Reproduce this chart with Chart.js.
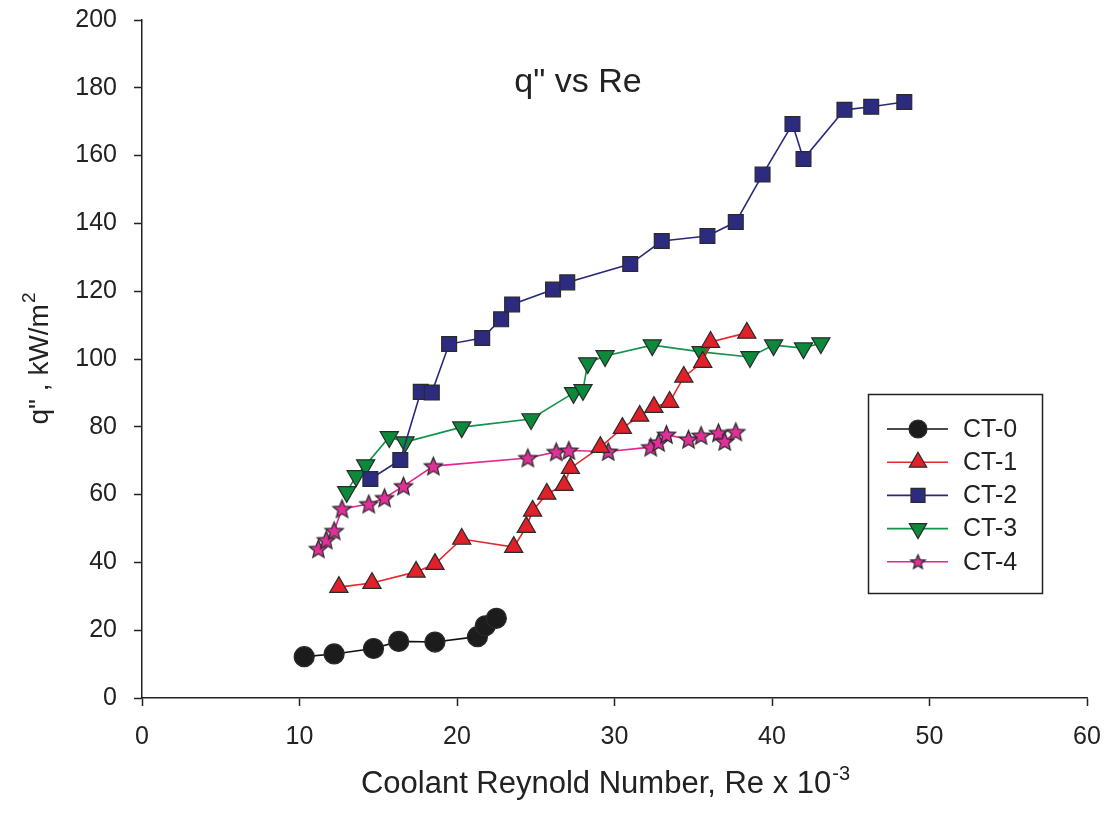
<!DOCTYPE html>
<html lang="en">
<head>
    <meta charset="UTF-8">
    <meta name="viewport" content="width=device-width, initial-scale=1.0">
    <script src="https://cdn.jsdelivr.net/npm/chart.js"></script>
    <style>
        html, body {
            margin: 0;
            padding: 0;
            background: #fff;
        }

        .chart-box {
            width: 1105px;
            height: 818px;
            position: relative;
        }
    </style>
    <title>q" vs Re</title>
</head>
<body>
    <div class="chart-box">
        <canvas id="qChart"></canvas>
    </div>
    <script>
        // Series names and data (Re x 10^-3, q" in kW/m2)
        const seriesNames = ['CT-0', 'CT-1', 'CT-2', 'CT-3', 'CT-4'];

        const ct0Re = [10.3, 12.2, 14.7, 16.3, 18.6, 21.3, 21.8, 22.5];
        const ct0Q = [12.2, 13.0, 14.6, 16.7, 16.5, 18.1, 21.3, 23.5];

        const ct1Re = [12.5, 14.6, 17.4, 18.6, 20.3, 23.6, 24.4, 24.8, 25.7, 26.8, 27.2, 29.1, 30.5, 31.6, 32.5, 33.5, 34.4, 35.6, 36.1, 38.4];
        const ct1Q = [32.7, 33.9, 37.2, 39.5, 46.9, 44.5, 50.4, 55.2, 60.2, 62.8, 67.8, 74.0, 79.6, 83.2, 85.8, 87.3, 94.7, 99.1, 105.0, 107.7];

        const ct2Re = [14.5, 16.4, 17.7, 18.4, 19.5, 21.6, 22.8, 23.5, 26.1, 27.0, 31.0, 33.0, 35.9, 37.7, 39.4, 41.3, 42.0, 44.6, 46.3, 48.4];
        const ct2Q = [64.6, 70.2, 90.3, 90.1, 104.4, 106.2, 111.7, 116.1, 120.5, 122.6, 128.0, 134.8, 136.3, 140.4, 154.4, 169.3, 159.0, 173.5, 174.4, 175.8];

        const ct3Re = [13.0, 13.6, 14.2, 15.7, 16.7, 20.3, 24.7, 27.4, 28.0, 28.3, 29.4, 32.4, 35.5, 38.6, 40.1, 42.0, 43.1];
        const ct3Q = [60.8, 65.5, 68.7, 77.0, 75.5, 79.9, 82.3, 90.0, 90.9, 98.8, 100.9, 104.1, 102.1, 100.6, 104.1, 103.2, 104.7];

        const ct4Re = [11.2, 11.7, 12.2, 12.7, 14.4, 15.4, 16.6, 18.5, 24.5, 26.3, 27.1, 29.6, 32.3, 32.8, 33.3, 34.7, 35.5, 36.6, 37.0, 37.7];
        const ct4Q = [44.0, 46.6, 49.3, 55.8, 57.2, 59.0, 62.5, 68.4, 70.8, 72.6, 73.0, 72.7, 74.0, 75.4, 77.7, 76.3, 77.4, 78.2, 75.7, 78.5];

        const xTicks = [0, 10, 20, 30, 40, 50, 60];
        const yTicks = [0, 20, 40, 60, 80, 100, 120, 140, 160, 180, 200];

        const FONT = '"Liberation Sans", Arial, Helvetica, sans-serif';
        const TEXT = '#222';
        const EDGE = '#2a2a2a';

        // filled five point star as a small canvas (Chart.js 'star' is only an asterisk)
        function makeStar(r, fill) {
            const size = Math.ceil(r * 2 + 4);
            const c = document.createElement('canvas');
            c.width = size;
            c.height = size;
            const g = c.getContext('2d');
            g.translate(size / 2, size / 2 + r * 0.08);
            g.beginPath();
            for (let i = 0; i < 10; i++) {
                const a = -Math.PI / 2 + i * Math.PI / 5;
                const rr = i % 2 ? r * 0.45 : r;
                g.lineTo(Math.cos(a) * rr, Math.sin(a) * rr);
            }
            g.closePath();
            g.fillStyle = fill;
            g.fill();
            g.lineWidth = 1.3;
            g.strokeStyle = EDGE;
            g.stroke();
            return c;
        }

        function pts(xs, ys) {
            return xs.map((x, i) => ({ x: x, y: ys[i] }));
        }

        const styles = [
            { line: '#111111', fill: '#1c1c1c', point: 'circle', radius: 10, rotation: 0 },
            { line: '#e8262b', fill: '#e2202a', point: 'triangle', radius: 10.5, rotation: 0 },
            { line: '#29287a', fill: '#2d2b80', point: 'rect', radius: 10.5, rotation: 0 },
            { line: '#13924a', fill: '#0c8a3c', point: 'triangle', radius: 10.5, rotation: 180 },
            { line: '#e5268f', fill: '#e0309a', point: makeStar(9.5, '#e0309a'), radius: 9, rotation: 0 }
        ];
        const legendStars = makeStar(7.5, '#e0309a');

        const seriesData = [
            pts(ct0Re, ct0Q),
            pts(ct1Re, ct1Q),
            pts(ct2Re, ct2Q),
            pts(ct3Re, ct3Q),
            pts(ct4Re, ct4Q)
        ];

        const datasets = seriesNames.map((name, i) => ({
            label: name,
            data: seriesData[i],
            showLine: true,
            borderColor: styles[i].line,
            borderWidth: 1.6,
            pointStyle: styles[i].point,
            pointRadius: styles[i].radius,
            pointRotation: styles[i].rotation,
            pointBackgroundColor: styles[i].fill,
            pointBorderColor: EDGE,
            pointBorderWidth: 1.2,
            tension: 0
        }));

        function drawMarker(ctx, i, x, y) {
            const s = styles[i];
            ctx.save();
            ctx.fillStyle = s.fill;
            ctx.strokeStyle = EDGE;
            ctx.lineWidth = 1.2;
            ctx.beginPath();
            if (i === 0) {
                ctx.arc(x, y, 9, 0, Math.PI * 2);
            } else if (i === 1 || i === 3) {
                const r = 10;
                const d = i === 3 ? -1 : 1;
                ctx.moveTo(x, y - d * r);
                ctx.lineTo(x + r * 0.866, y + d * r / 2);
                ctx.lineTo(x - r * 0.866, y + d * r / 2);
                ctx.closePath();
            } else if (i === 2) {
                ctx.rect(x - 7, y - 7, 14, 14);
            } else {
                ctx.drawImage(legendStars, x - legendStars.width / 2, y - legendStars.height / 2);
                ctx.restore();
                return;
            }
            ctx.fill();
            ctx.stroke();
            ctx.restore();
        }

        // legend box, axis titles with superscripts and the plot title
        const textPlugin = {
            id: 'textPlugin',
            afterDraw(chart) {
                const ctx = chart.ctx;
                const area = chart.chartArea;
                ctx.save();
                ctx.fillStyle = TEXT;

                // title
                ctx.font = '34px ' + FONT;
                ctx.textAlign = 'center';
                ctx.textBaseline = 'alphabetic';
                ctx.fillText('q" vs Re', 578, 92);

                // x axis title
                ctx.textAlign = 'left';
                const xMain = 'Coolant Reynold Number, Re x 10';
                ctx.font = '31px ' + FONT;
                const wMain = ctx.measureText(xMain).width;
                ctx.font = '20px ' + FONT;
                const wSup = ctx.measureText('-3').width;
                let x0 = 605 - (wMain + wSup) / 2;
                ctx.font = '31px ' + FONT;
                ctx.fillText(xMain, x0, 793);
                ctx.font = '20px ' + FONT;
                ctx.fillText('-3', x0 + wMain + 1, 780);

                // y axis title
                ctx.save();
                const yMain = 'q" , kW/m';
                ctx.font = '28px ' + FONT;
                const wy = ctx.measureText(yMain).width;
                ctx.font = '19px ' + FONT;
                const wy2 = ctx.measureText('2').width;
                const yc = (area.top + area.bottom) / 2;
                ctx.translate(48, yc + (wy + wy2) / 2);
                ctx.rotate(-Math.PI / 2);
                ctx.font = '28px ' + FONT;
                ctx.fillText(yMain, 0, 0);
                ctx.font = '19px ' + FONT;
                ctx.fillText('2', wy + 1, -13);
                ctx.restore();

                // legend
                const bx = 868.5, by = 394.5, bw = 174, bh = 199;
                ctx.strokeStyle = TEXT;
                ctx.lineWidth = 1.5;
                ctx.strokeRect(bx, by, bw, bh);
                ctx.font = '25px ' + FONT;
                ctx.textBaseline = 'middle';
                seriesNames.forEach((name, i) => {
                    const ly = 429 + i * 33.2;
                    ctx.strokeStyle = styles[i].line;
                    ctx.lineWidth = 1.6;
                    ctx.beginPath();
                    ctx.moveTo(887, ly);
                    ctx.lineTo(948, ly);
                    ctx.stroke();
                    drawMarker(ctx, i, 918, ly);
                    ctx.fillStyle = TEXT;
                    ctx.fillText(name, 963, ly + 1);
                });
                ctx.restore();
            }
        };

        const ctx = document.getElementById('qChart').getContext('2d');
        new Chart(ctx, {
            type: 'scatter',
            data: { datasets: datasets },
            options: {
                responsive: true,
                maintainAspectRatio: false,
                animation: false,
                layout: {
                    padding: { left: 0, top: 20, right: 18, bottom: 0 }
                },
                plugins: {
                    legend: { display: false },
                    tooltip: { enabled: false },
                    title: { display: false }
                },
                scales: {
                    x: {
                        type: 'linear',
                        min: xTicks[0],
                        max: xTicks[xTicks.length - 1],
                        afterBuildTicks: (scale) => {
                            scale.ticks = xTicks.map(v => ({ value: v }));
                        },
                        afterFit: (scale) => {
                            scale.height = 120;
                            scale.paddingLeft = 0;
                            scale.paddingRight = 0;
                        },
                        grid: {
                            drawOnChartArea: false,
                            drawTicks: true,
                            tickLength: 8,
                            tickWidth: 1.5,
                            tickColor: TEXT
                        },
                        border: { color: TEXT, width: 1.5 },
                        ticks: {
                            color: TEXT,
                            padding: 16,
                            maxRotation: 0,
                            font: { family: FONT, size: 25 }
                        }
                    },
                    y: {
                        type: 'linear',
                        min: yTicks[0],
                        max: yTicks[yTicks.length - 1],
                        afterBuildTicks: (scale) => {
                            scale.ticks = yTicks.map(v => ({ value: v }));
                        },
                        afterFit: (scale) => {
                            scale.width = 142;
                            scale.paddingTop = 0;
                            scale.paddingBottom = 0;
                        },
                        grid: {
                            drawOnChartArea: false,
                            drawTicks: true,
                            tickLength: 8,
                            tickWidth: 1.5,
                            tickColor: TEXT
                        },
                        border: { color: TEXT, width: 1.5 },
                        ticks: {
                            color: TEXT,
                            padding: 17,
                            font: { family: FONT, size: 25 }
                        }
                    }
                }
            },
            plugins: [textPlugin]
        });
    </script>
</body>
</html>
